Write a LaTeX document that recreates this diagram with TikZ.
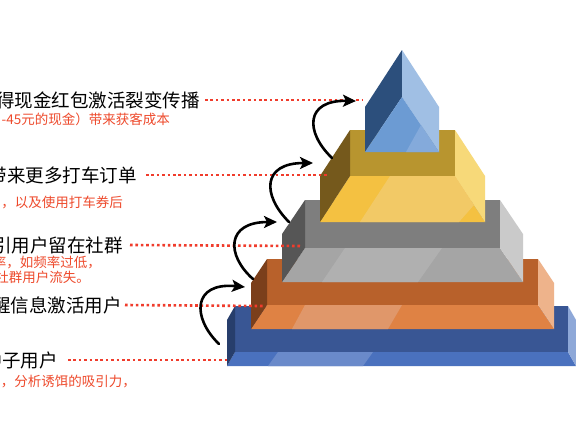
\documentclass[tikz,border=0pt]{standalone}
\usepackage{fontspec}
\newfontfamily\cjk{Noto Sans CJK SC}
\usetikzlibrary{arrows.meta}
% prism
\definecolor{pdark}{HTML}{2C4F7C}
\definecolor{plight}{HTML}{A0BFE4}
\definecolor{pfront}{HTML}{6C9BD3}
\definecolor{phl}{HTML}{84AADB}
% yellow
\definecolor{yback}{HTML}{B8952F}
\definecolor{yleft}{HTML}{75591C}
\definecolor{yright}{HTML}{F7D979}
\definecolor{yfloor}{HTML}{F4C141}
\definecolor{yband}{HTML}{F2C966}
% grey
\definecolor{gback}{HTML}{7E7E7E}
\definecolor{gleft}{HTML}{565656}
\definecolor{gright}{HTML}{CACACA}
\definecolor{gfloor}{HTML}{A5A5A5}
\definecolor{gband}{HTML}{B0B0B0}
% orange
\definecolor{oback}{HTML}{B8612B}
\definecolor{oleft}{HTML}{7B3F1B}
\definecolor{oright}{HTML}{EEB38B}
\definecolor{ofloor}{HTML}{DF8244}
\definecolor{oband}{HTML}{E0976A}
% blue
\definecolor{bback}{HTML}{395694}
\definecolor{bleft}{HTML}{273E6C}
\definecolor{bright}{HTML}{8EA8D8}
\definecolor{bfloor}{HTML}{4A71BE}
\definecolor{bband}{HTML}{6A8ACA}
\definecolor{txtred}{HTML}{EE4A2C}
\definecolor{dotred}{HTML}{F03C2C}
% tier: xl xr yt ym yb d prefix
\newcommand\drawtier[7]{%
  \pgfmathsetmacro\tierk{#5-#4}%
  \fill[#7back] (#1+#6,#3) rectangle (#2-#6,#4);
  \fill[#7floor] (#1+#6,#4) -- (#2-#6,#4) -- (#2,#5) -- (#1,#5) -- cycle;
  \fill[#7left] (#1,#3+\tierk) -- (#1+#6,#3) -- (#1+#6,#4) -- (#1,#5) -- cycle;
  \fill[#7right] (#2,#3+\tierk) -- (#2-#6,#3) -- (#2-#6,#4) -- (#2,#5) -- cycle;
}
\tikzset{
  mainlbl/.style={font=\cjk\fontsize{18.5}{20}\selectfont, text=black, inner sep=0pt, anchor=east},
  sublbl/.style={font=\cjk\fontsize{13.5}{15}\selectfont, text=txtred, inner sep=0pt, anchor=east},
  dotline/.style={draw=dotred, line width=2.6pt, dash pattern=on 2.6pt off 2.8pt},
  curvearrow/.style={draw=black, line width=2.6pt, line cap=round,
    -{Stealth[length=13pt,width=12pt,inset=3pt]}},
}
\begin{document}
\begin{tikzpicture}[x=1pt,y=-1pt]
\useasboundingbox (0,0) rectangle (576,432);
\fill[white] (0,0) rectangle (576,432);

% ---- pyramid tiers (bottom to top) ----
\drawtier{227}{576}{306}{352}{366}{8}{b}
\fill[bband] (278,352) -- (373,352) -- (363,366) -- (268,366) -- cycle;

\drawtier{251}{554}{259}{305}{329}{16}{o}
\fill[oband] (305,305) -- (402,305) -- (388,329) -- (292,329) -- cycle;

\drawtier{282}{523}{200}{248}{282}{23}{g}
\fill[gband] (345,248) -- (442,248) -- (418,282) -- (322,282) -- cycle;

\drawtier{320}{485}{130}{176}{222}{30}{y}
\fill[yband] (390,176) -- (455,176) -- (474,205) -- (459,222) -- (360,222) -- cycle;

% ---- top prism ----
\fill[pdark] (402,50) -- (365,107) -- (365,152) -- (402,97) -- cycle;
\fill[plight] (402,50) -- (439,107) -- (439,152) -- (402,97) -- cycle;
\fill[pfront] (402,97) -- (365,152) -- (439,152) -- cycle;
\fill[phl] (421,125) -- (406,152) -- (439,152) -- cycle;

% ---- labels ----
\node[mainlbl] (l1) at (200,100) {得现金红包激活裂变传播};
\node[sublbl]  (s1) at (170,119) {-45元的现金）带来获客成本};
\node[mainlbl] (l2) at (137,175) {带来更多打车订单};
\node[sublbl]  (s2) at (123,203) {，以及使用打车券后};
\node[mainlbl] (l3) at (123,245) {引用户留在社群};
\node[sublbl]  (s3a) at (101,262) {率，如频率过低，};
\node[sublbl]  (s3b) at (90,277) {社群用户流失。};
\node[mainlbl] (l4) at (122,305) {醒信息激活用户};
\node[mainlbl] (l5) at (58,360) {种子用户};
\node[sublbl]  (s5) at (136,382) {，分析诱饵的吸引力，};

% ---- dotted leaders ----
\coordinate (e1) at (363,100);
\coordinate (e2) at (327,175);
\coordinate (e3) at (302,246);
\coordinate (e4) at (263,306);
\coordinate (e5) at (228,360);
\draw[dotline] ([xshift=5pt]l1.east) -- (e1);
\draw[dotline] ([xshift=9pt]l2.east) -- (e2);
\draw[dotline] ([xshift=7pt]l3.east) -- (e3);
\draw[dotline] ([xshift=3pt]l4.east) -- (e4);
\draw[dotline] ([xshift=10pt]l5.east) -- (e5);

% ---- curved arrows ----
\coordinate (a1) at (219,344); \coordinate (a2) at (245,287);
\coordinate (b1) at (253,279); \coordinate (b2) at (277,222);
\coordinate (c1) at (289,222); \coordinate (c2) at (313,163);
\coordinate (d1) at (332,158); \coordinate (d2) at (356,101);
\draw[curvearrow] (a1) .. controls (192,318) and (192,282) .. (a2);
\draw[curvearrow] (b1) .. controls (226,255) and (226,222) .. (b2);
\draw[curvearrow] (c1) .. controls (262,195) and (262,163) .. (c2);
\draw[curvearrow] (d1) .. controls (305,132) and (305,100) .. (d2);
\end{tikzpicture}
\end{document}
